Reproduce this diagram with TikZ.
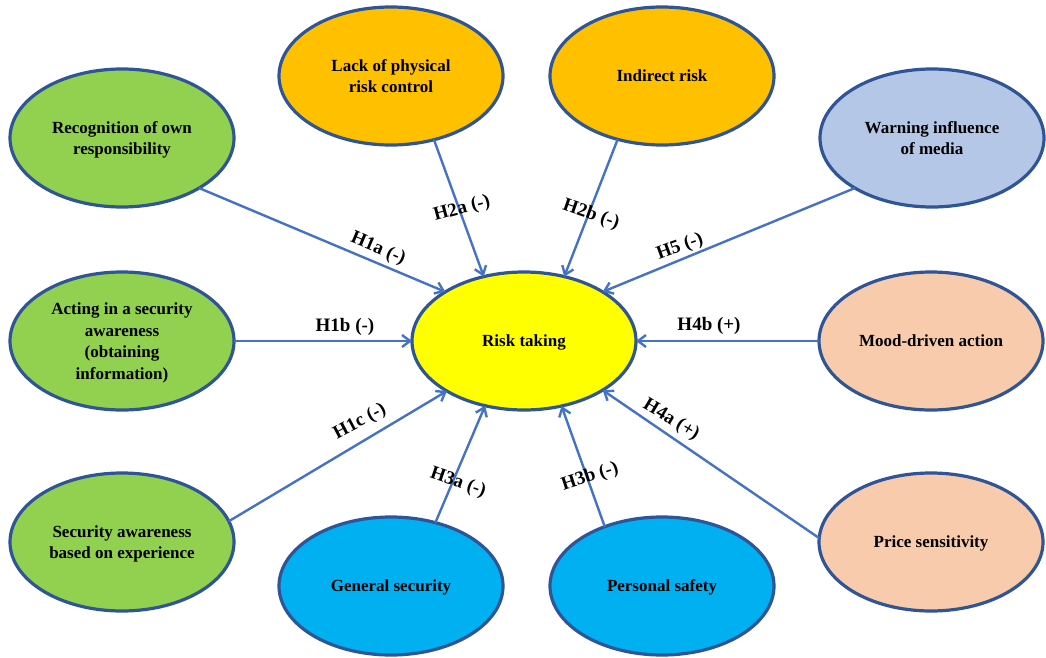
\documentclass[tikz,border=0pt]{standalone}
\usepackage{fontspec}
\setmainfont{Liberation Serif}
\usetikzlibrary{shapes.geometric,arrows.meta}

\definecolor{edgeblue}{HTML}{2F5597}
\definecolor{linkblue}{HTML}{4472C4}
\definecolor{fgreen}{HTML}{92D050}
\definecolor{forange}{HTML}{FFC000}
\definecolor{fpale}{HTML}{B4C7E7}
\definecolor{fsalmon}{HTML}{F8CBAD}
\definecolor{fcyan}{HTML}{00B0F0}
\definecolor{fyellow}{HTML}{FFFF00}

\begin{document}
\begin{tikzpicture}[x=1pt,y=-1pt,
  factor/.style={ellipse, draw=edgeblue, line width=3.2pt,
    minimum width=224pt, minimum height=138pt, inner sep=0pt, outer sep=0pt,
    text depth=-1.5pt,
    align=center, text=black, font=\bfseries\fontsize{17}{21.5}\selectfont},
  link/.style={draw=linkblue, line width=2.4pt,
    -{Straight Barb[length=8pt,width=12pt]}},
  hyp/.style={font=\bfseries\fontsize{19}{22}\selectfont, inner sep=1pt, text=black}]

\useasboundingbox (0,0) rectangle (1046,658);

% central construct
\node[factor, fill=fyellow] (risk) at (524,341) {Risk taking};

% self-responsibility factors (left)
\node[factor, fill=fgreen] (rec) at (122,138) {Recognition of own\\responsibility};
\node[factor, fill=fgreen] (act) at (122,341) {Acting in a security\\awareness\\(obtaining\\information)};
\node[factor, fill=fgreen] (exp) at (122,542) {Security awareness\\based on experience};

% risk control factors (top)
\node[factor, fill=forange] (lack) at (391,76) {Lack of physical\\risk control};
\node[factor, fill=forange] (ind) at (662,76) {Indirect risk};

% security factors (bottom)
\node[factor, fill=fcyan] (gen) at (391,586) {General security};
\node[factor, fill=fcyan] (pers) at (662,586) {Personal safety};

% media and behaviour factors (right)
\node[factor, fill=fpale] (media) at (932,138) {Warning influence\\of media};
\node[factor, fill=fsalmon] (mood) at (931,341) {Mood-driven action};
\node[factor, fill=fsalmon] (price) at (931,542) {Price sensitivity};

% hypothesised paths
\draw[link] (rec.-33)   -- (risk.148);
\draw[link] (act.east)  -- (risk.west);
\draw[link] (exp.11)    -- (risk.-147);
\draw[link] (lack.-56)  -- (risk.122);
\draw[link] (ind.-125)  -- (risk.58);
\draw[link] (media.-147) -- (risk.32);
\draw[link] (mood.west) -- (risk.east);
\draw[link] (price.178) -- (risk.-32);
\draw[link] (gen.55)    -- (risk.-121);
\draw[link] (pers.134)  -- (risk.-60);

% path labels
\node[hyp, rotate=-23] (l1a) at (378,249) {H1a (-)};
\node[hyp]             (l1b) at (345,327) {H1b (-)};
\node[hyp, rotate=28]  (l1c) at (360,422) {H1c (-)};
\node[hyp, rotate=15]  (l2a) at (462,209) {H2a (-)};
\node[hyp, rotate=-19] (l2b) at (591,215) {H2b (-)};
\node[hyp, rotate=20]  (l5)  at (680,247) {H5 (-)};
\node[hyp]             (l4b) at (709,326) {H4b (+)};
\node[hyp, rotate=-31] (l4a) at (671,420) {H4a (+)};
\node[hyp, rotate=-19] (l3a) at (458,483) {H3a (-)};
\node[hyp, rotate=18]  (l3b) at (590,477) {H3b (-)};
\end{tikzpicture}
\end{document}
